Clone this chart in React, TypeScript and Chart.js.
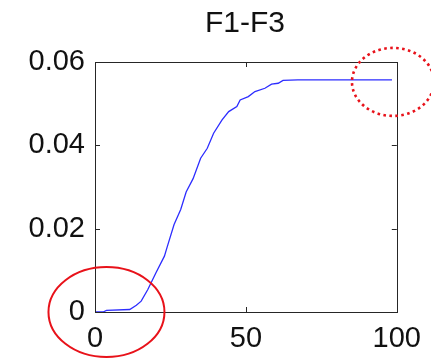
import React, { useEffect, useRef } from "react";
import { Chart, registerables } from "chart.js";

Chart.register(...registerables);

const titleText = "F1-F3";
const xValues = [0, 2.7, 3.8, 11.5, 13.7, 15.3, 17.5, 20.2, 23.0, 24.0, 26.2, 28.4, 30.2, 32.5, 35.0, 37.2, 39.3, 42.1, 44.3, 47.0, 48.1, 50.8, 53.0, 56.3, 58.5, 60.7, 62.3, 67.2, 98.4];
const yValues = [0, 0, 0.0004, 0.0006, 0.0016, 0.0026, 0.0054, 0.0094, 0.0134, 0.0158, 0.021, 0.0246, 0.0288, 0.032, 0.0369, 0.0393, 0.0429, 0.0461, 0.0481, 0.0493, 0.0509, 0.0517, 0.0529, 0.0537, 0.0547, 0.0549, 0.0556, 0.0557, 0.0557];
const xTicks = [0, 50, 100];
const xTickLabels = ["0", "50", "100"];
const yTicks = [0, 0.02, 0.04, 0.06];
const yTickLabels = ["0", "0.02", "0.04", "0.06"];

const FONT = "'Liberation Sans', Arial, sans-serif";

const framePlugin = {
  id: "framePlugin",
  afterDraw(chart: any) {
    const { ctx, chartArea, scales } = chart;
    const { left, right, top, bottom } = chartArea;
    ctx.save();
    // frame
    ctx.strokeStyle = "#262626";
    ctx.lineWidth = 1;
    ctx.strokeRect(Math.round(left) + 0.5, Math.round(top) + 0.5, Math.round(right - left), Math.round(bottom - top));
    // inward ticks
    ctx.beginPath();
    const tl = 5;
    xTicks.forEach((v) => {
      const px = Math.round(scales.x.getPixelForValue(v)) + 0.5;
      ctx.moveTo(px, bottom);
      ctx.lineTo(px, bottom - tl);
      ctx.moveTo(px, top);
      ctx.lineTo(px, top + tl);
    });
    yTicks.forEach((v) => {
      const py = Math.round(scales.y.getPixelForValue(v)) + 0.5;
      ctx.moveTo(left, py);
      ctx.lineTo(left + tl, py);
      ctx.moveTo(right, py);
      ctx.lineTo(right - tl, py);
    });
    ctx.stroke();
    // title
    ctx.fillStyle = "#111";
    ctx.font = `30px ${FONT}`;
    ctx.textAlign = "center";
    ctx.textBaseline = "alphabetic";
    ctx.fillText(titleText, (left + right) / 2 - 1, 32);
    // annotation: solid ellipse near origin
    const cx1 = scales.x.getPixelForValue(xValues[2]);
    const cy1 = scales.y.getPixelForValue(0);
    ctx.strokeStyle = "#e8121a";
    ctx.lineWidth = 2;
    ctx.beginPath();
    ctx.ellipse(cx1, cy1, 58, 45, 0, 0, Math.PI * 2);
    ctx.stroke();
    // annotation: dotted ellipse near the end
    const cx2 = scales.x.getPixelForValue(xValues[xValues.length - 1]) + 1;
    const cy2 = scales.y.getPixelForValue(yValues[yValues.length - 1]) + 2;
    ctx.lineWidth = 2.6;
    ctx.setLineDash([2.6, 3.4]);
    ctx.beginPath();
    ctx.ellipse(cx2, cy2, 41, 34, 0, 0, Math.PI * 2);
    ctx.stroke();
    ctx.restore();
  },
};

export default function App() {
  const ref = useRef<HTMLCanvasElement>(null);
  useEffect(() => {
    if (!ref.current) return;
    const chart = new Chart(ref.current, {
      type: "scatter",
      data: {
        datasets: [
          {
            data: xValues.map((x, i) => ({ x, y: yValues[i] })),
            showLine: true,
            borderColor: "rgb(45,45,255)",
            borderWidth: 1.3,
            pointRadius: 0,
            tension: 0,
          },
        ],
      },
      options: {
        animation: false,
        responsive: false,
        devicePixelRatio: 1,
        layout: { padding: { top: 62, right: 31, left: 0, bottom: 0 } },
        plugins: { legend: { display: false }, tooltip: { enabled: false }, title: { display: false } },
        scales: {
          x: {
            type: "linear",
            min: 0,
            max: 100,
            grid: { display: false, drawTicks: false },
            border: { display: false },
            afterBuildTicks: (s: any) => {
              s.ticks = xTicks.map((v) => ({ value: v }));
            },
            afterFit: (s: any) => {
              s.height = 46;
            },
            ticks: {
              padding: 10,
              color: "#111",
              font: { family: FONT, size: 29 },
              maxRotation: 0,
              callback: (v: any) => xTickLabels[xTicks.indexOf(Number(v))] ?? "",
            },
          },
          y: {
            type: "linear",
            min: 0,
            max: 0.06,
            grid: { display: false, drawTicks: false },
            border: { display: false },
            afterBuildTicks: (s: any) => {
              s.ticks = yTicks.map((v) => ({ value: v }));
            },
            afterFit: (s: any) => {
              s.width = 95;
            },
            ticks: {
              padding: 10,
              color: "#111",
              font: { family: FONT, size: 29 },
              callback: (v: any) => {
                const i = yTicks.findIndex((t) => Math.abs(t - Number(v)) < 1e-9);
                return i >= 0 ? yTickLabels[i] : "";
              },
            },
          },
        },
      },
      plugins: [framePlugin],
    });
    return () => chart.destroy();
  }, []);
  return (
    <div style={{ position: "fixed", left: 0, top: 0, width: 431, height: 358, background: "#fff" }}>
      <canvas ref={ref} width={431} height={358} style={{ width: 431, height: 358 }} />
    </div>
  );
}
